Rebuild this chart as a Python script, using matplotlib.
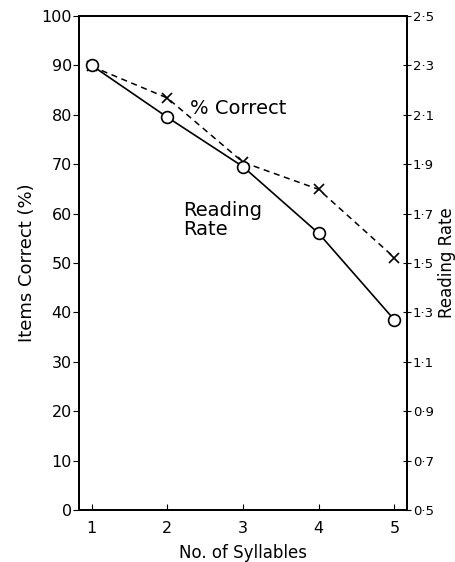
import numpy as np
import matplotlib
matplotlib.use("Agg")
import matplotlib.pyplot as plt
from matplotlib.ticker import FixedLocator

# values
syllables = [1, 2, 3, 4, 5]
pct_correct = [89.8, 83.4, 70.4, 64.9, 51.1]
reading_rate = [2.30, 2.09, 1.89, 1.62, 1.27]

left_ticks = list(range(0, 101, 10))
right_ticks = [0.5, 0.7, 0.9, 1.1, 1.3, 1.5, 1.7, 1.9, 2.1, 2.3, 2.5]
right_labels = ["0·5", "0·7", "0·9", "1·1", "1·3", "1·5", "1·7", "1·9", "2·1", "2·3", "2·5"]

plt.rcParams["font.family"] = ["DejaVu Sans"]

fig = plt.figure(figsize=(4.56, 5.62), dpi=100)
ax = fig.add_axes([0.173, 0.0925, 0.72, 0.879])
ax2 = ax.twinx()

ax.set_xlim(0.83, 5.17)
ax.set_ylim(0, 100)
ax2.set_ylim(0.5, 2.5)

ax.plot(syllables, pct_correct, ls="--", color="black", lw=1.1,
        marker="x", ms=6.5, mew=1.2, dashes=(4, 3))
ax2.plot(syllables, reading_rate, ls="-", color="black", lw=1.2,
         marker="o", ms=8.5, mfc="white", mec="black", mew=1.2)

ax.yaxis.set_major_locator(FixedLocator(left_ticks))
ax.set_xticks(syllables)
ax.tick_params(axis="y", direction="out", length=4, labelsize=11.5, pad=1)
ax.tick_params(axis="x", direction="in", length=4, labelsize=11.5, pad=8)
ax2.set_yticks(right_ticks)
ax2.set_yticklabels(right_labels)
ax2.tick_params(axis="y", direction="inout", length=6, labelsize=9.5, pad=1)

for a in (ax, ax2):
    for s in a.spines.values():
        s.set_linewidth(1.3)

ax.set_ylabel("Items Correct (%)", fontsize=13, labelpad=4)
ax2.set_ylabel("Reading Rate", fontsize=12, rotation=90, labelpad=3)
ax.set_xlabel("No. of Syllables", fontsize=12, labelpad=6)

ax.text(2.30, 81.2, "% Correct", fontsize=14, va="center", ha="left")
ax.text(2.21, 58.8, "Reading\nRate", fontsize=14, va="center", ha="left",
        linespacing=1.0)

fig.savefig("out.png", dpi=100)
